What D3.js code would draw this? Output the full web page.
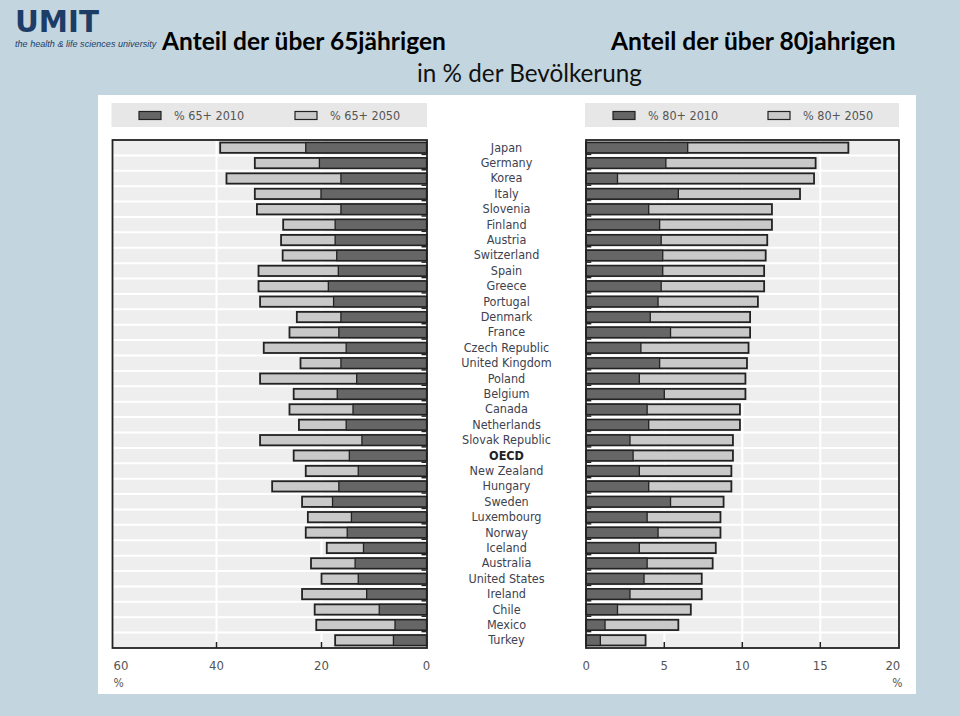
<!DOCTYPE html>
<html><head><meta charset="utf-8">
<script src="https://cdn.jsdelivr.net/npm/d3@7/dist/d3.min.js"></script>
<style>
html,body{margin:0;padding:0;background:#c3d6df;}
svg{display:block;}
</style></head>
<body>
<svg id="chart" width="960" height="716"></svg>
<script>
const countries = ["Japan","Germany","Korea","Italy","Slovenia","Finland","Austria","Switzerland","Spain","Greece","Portugal","Denmark","France","Czech Republic","United Kingdom","Poland","Belgium","Canada","Netherlands","Slovak Republic","OECD","New Zealand","Hungary","Sweden","Luxembourg","Norway","Iceland","Australia","United States","Ireland","Chile","Mexico","Turkey"];
const pop65_2010 = [23.0,20.4,16.3,20.1,16.3,17.4,17.4,17.1,16.8,18.7,17.7,16.3,16.7,15.3,16.3,13.3,17.0,14.0,15.3,12.3,14.7,13.0,16.7,17.9,14.3,15.1,12.0,13.6,13.0,11.4,9.0,6.0,6.3];
const pop65_2050 = [39.3,32.7,38.1,32.7,32.3,27.3,27.7,27.4,32.0,32.0,31.7,24.7,26.1,31.0,24.0,31.7,25.3,26.1,24.3,31.7,25.3,23.0,29.4,23.7,22.6,23.0,19.0,22.0,20.0,23.7,21.3,21.0,17.4];
const pop80_2010 = [6.5,5.1,2.0,5.9,4.0,4.7,4.8,4.9,4.9,4.8,4.6,4.1,5.4,3.5,4.7,3.4,5.0,3.9,4.0,2.8,3.0,3.4,4.0,5.4,3.9,4.6,3.4,3.9,3.7,2.8,2.0,1.2,0.9];
const pop80_2050 = [16.8,14.7,14.6,13.7,11.9,11.9,11.6,11.5,11.4,11.4,11.0,10.5,10.5,10.4,10.3,10.2,10.2,9.85,9.85,9.4,9.4,9.3,9.3,8.8,8.6,8.6,8.3,8.1,7.4,7.4,6.7,5.9,3.8];
const leftTicks = [0,20,40,60];
const rightTicks = [0,5,10,15,20];
const legendLeft = ["% 65+ 2010","% 65+ 2050"];
const legendRight = ["% 80+ 2010","% 80+ 2050"];
const titleLeft = "Anteil der über 65jährigen";
const titleRight = "Anteil der über 80jahrigen";
const subtitle = "in % der Bevölkerung";

const svg = d3.select("#chart");
const DARK = "#666666", LIGHT = "#c9c9c9", STROKE = "#222222", BG = "#eeeeee";
const condensed = "'Liberation Sans Narrow','DejaVu Sans Condensed','Roboto',sans-serif";

function fitText(sel, target){
  const w = sel.node().getBBox().width;
  const fs = parseFloat(sel.attr("font-size"));
  sel.attr("font-size", fs*target/w);
}

svg.append("rect").attr("width",960).attr("height",716).attr("fill","#c3d6df");
svg.append("rect").attr("x",98).attr("y",95).attr("width",818).attr("height",599).attr("fill","#ffffff");

const logo = svg.append("text").attr("x",15).attr("y",32).attr("font-family","'DejaVu Sans',sans-serif")
  .attr("font-weight","bold").attr("font-size",28).attr("fill","#1d3c66").text("UMIT");
fitText(logo,84);
const tag = svg.append("text").attr("x",15).attr("y",47).attr("font-family","'Liberation Sans',Arial,sans-serif")
  .attr("font-style","italic").attr("font-size",9).attr("fill","#1d3c66").text("the health & life sciences university");
fitText(tag,142);

const t1 = svg.append("text").attr("x",162).attr("y",50).attr("font-family","Lato,'Open Sans',sans-serif")
  .attr("font-weight","bold").attr("font-size",24).attr("fill","#000").text(titleLeft);
fitText(t1,285);
const t2 = svg.append("text").attr("x",611).attr("y",50).attr("font-family","Lato,'Open Sans',sans-serif")
  .attr("font-weight","bold").attr("font-size",24).attr("fill","#000").text(titleRight);
fitText(t2,286);
const st = svg.append("text").attr("x",417).attr("y",82).attr("font-family","Lato,'Open Sans',sans-serif")
  .attr("font-size",22).attr("fill","#111").text(subtitle);
fitText(st,225);

const yTop = 140, yBot = 648;
const y = d3.scaleBand().domain(countries).range([yTop,yBot]).paddingInner(0.33).paddingOuter(0.165);
const step = y.step();
const xL = d3.scaleLinear().domain([0,60]).range([426.5,111.5]);
const xR = d3.scaleLinear().domain([0,20]).range([586.3,898.3]);

function panel(x, x0, x1, v2010, v2050, ticks, legend, legX, side){
  const g = svg.append("g");
  g.append("rect").attr("x",x0-1).attr("y",103).attr("width",x1-x0+1).attr("height",24).attr("fill","#e7e7e7");
  legend.forEach((lab,i)=>{
    const sx = legX[i];
    g.append("rect").attr("x",sx).attr("y",111.5).attr("width",22).attr("height",8)
      .attr("fill", i===0?DARK:LIGHT).attr("stroke",STROKE).attr("stroke-width",1.2);
    g.append("text").attr("x",sx+35).attr("y",120).attr("font-family",condensed).attr("font-size",12.5)
      .attr("fill","#555").text(lab);
  });
  g.append("rect").attr("x",x0).attr("y",yTop).attr("width",x1-x0).attr("height",yBot-yTop).attr("fill",BG);
  countries.forEach((c,i)=>{ if(i>0){
    g.append("line").attr("x1",x0).attr("x2",x1).attr("y1",yTop+i*step).attr("y2",yTop+i*step)
      .attr("stroke","#fff").attr("stroke-width",2);
  }});
  ticks.slice(1,-1).forEach(t=>{
    g.append("line").attr("x1",x(t)).attr("x2",x(t)).attr("y1",yTop).attr("y2",yBot).attr("stroke","#fff").attr("stroke-width",2);
  });
  countries.forEach((c,i)=>{
    const yy = y(c), h = y.bandwidth();
    const a = x(0), b2 = x(v2050[i]), b1 = x(v2010[i]);
    g.append("rect").attr("x",Math.min(a,b2)).attr("y",yy).attr("width",Math.abs(b2-a)).attr("height",h)
      .attr("fill",LIGHT).attr("stroke",STROKE).attr("stroke-width",1.8);
    g.append("rect").attr("x",Math.min(a,b1)).attr("y",yy).attr("width",Math.abs(b1-a)).attr("height",h)
      .attr("fill",DARK).attr("stroke",STROKE).attr("stroke-width",1.3);
  });
  const zx = x(0), dir = side==="left"?-1:1;
  countries.forEach((c,i)=>{ if(i>0){
    g.append("line").attr("x1",zx).attr("x2",zx+dir*5).attr("y1",yTop+i*step-1).attr("y2",yTop+i*step-1)
      .attr("stroke",STROKE).attr("stroke-width",1.5);
  }});
  g.append("rect").attr("x",x0).attr("y",yTop).attr("width",x1-x0).attr("height",yBot-yTop)
    .attr("fill","none").attr("stroke",STROKE).attr("stroke-width",1.8);
  ticks.slice(1,-1).forEach(t=>{
    g.append("line").attr("x1",x(t)).attr("x2",x(t)).attr("y1",yBot).attr("y2",yBot-6).attr("stroke",STROKE).attr("stroke-width",1.5);
  });
  ticks.forEach((t,i)=>{
    let anchor = "middle";
    let tx = x(t);
    if(side==="left" && i===ticks.length-1){anchor="start"; tx = x(t)+2;}
    if(side==="right" && i===ticks.length-1){anchor="end"; tx = x(t)+2;}
    g.append("text").attr("x",tx).attr("y",670).attr("text-anchor",anchor).attr("font-family",condensed)
      .attr("font-size",13).attr("fill","#555").text(t);
  });
  const pctX = side==="left" ? x(ticks[ticks.length-1])+2 : x(ticks[ticks.length-1])-6;
  g.append("text").attr("x",pctX).attr("y",687).attr("font-family",condensed).attr("font-size",12)
    .attr("fill","#555").text("%");
}

panel(xL, 112.5, 427, pop65_2010, pop65_2050, leftTicks, legendLeft, [139,295], "left");
panel(xR, 586, 899, pop80_2010, pop80_2050, rightTicks, legendRight, [613,768], "right");

svg.append("g").selectAll("text").data(countries).join("text")
  .attr("x",506.5).attr("y",d=>y(d)+y.bandwidth()/2+4).attr("text-anchor","middle")
  .attr("font-family",condensed).attr("font-size",12.5)
  .attr("font-weight",d=>d==="OECD"?"bold":"normal")
  .attr("fill",d=>d==="OECD"?"#222":"#3d4250").text(d=>d);
</script>
</body></html>
